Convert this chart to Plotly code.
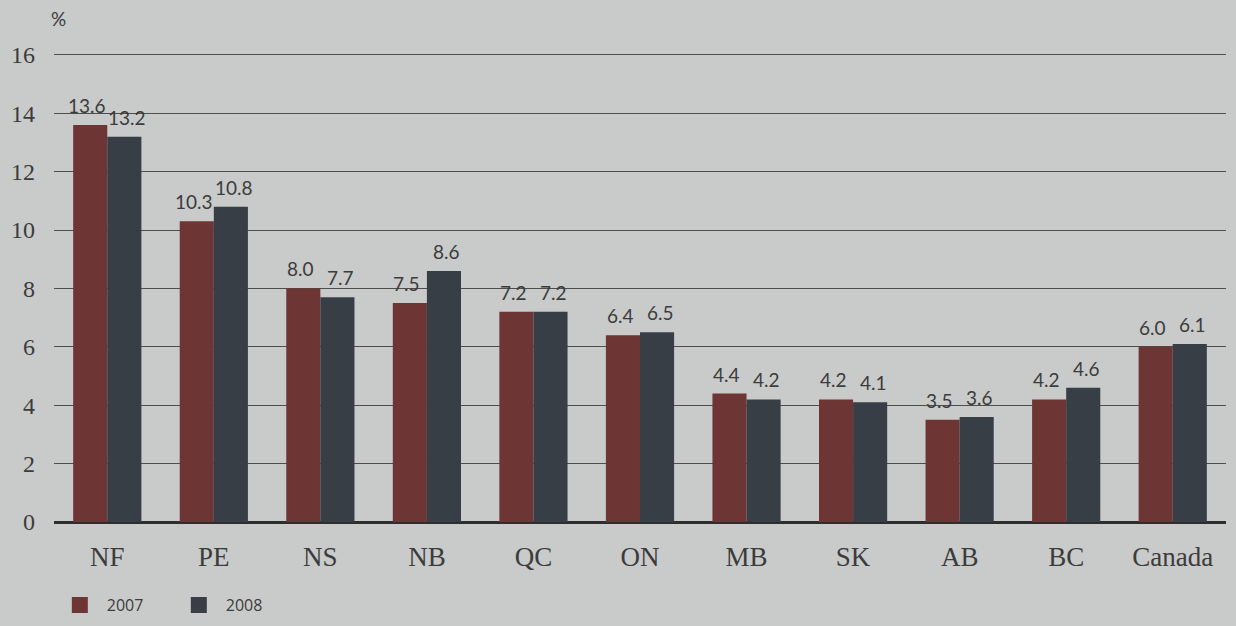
import plotly.graph_objects as go

categories = ["NF", "PE", "NS", "NB", "QC", "ON", "MB", "SK", "AB", "BC", "Canada"]
values_2007 = [13.6, 10.3, 8.0, 7.5, 7.2, 6.4, 4.4, 4.2, 3.5, 4.2, 6.0]
values_2008 = [13.2, 10.8, 7.7, 8.6, 7.2, 6.5, 4.2, 4.1, 3.6, 4.6, 6.1]
labels_2007 = ["13.6", "10.3", "8.0", "7.5", "7.2", "6.4", "4.4", "4.2", "3.5", "4.2", "6.0"]
labels_2008 = ["13.2", "10.8", "7.7", "8.6", "7.2", "6.5", "4.2", "4.1", "3.6", "4.6", "6.1"]
y_ticks = [0, 2, 4, 6, 8, 10, 12, 14, 16]

bg = "#c9caca"
red = "#6d3533"
dark = "#373e46"
txt = "#3c3c3c"
label_font = dict(family="Lato", size=19, color=txt)

fig = go.Figure()
fig.add_trace(go.Bar(name="2007", x=categories, y=values_2007, marker_color=red,
                     marker_line_width=0, showlegend=False))
fig.add_trace(go.Bar(name="2008", x=categories, y=values_2008, marker_color=dark,
                     marker_line_width=0, showlegend=False))
# legend entries
fig.add_trace(go.Scatter(name="2007", x=[None], y=[None], mode="markers",
                         marker=dict(symbol="square", size=18, color=red)))
fig.add_trace(go.Scatter(name="2008", x=[None], y=[None], mode="markers",
                         marker=dict(symbol="square", size=18, color=dark)))

annotations = []
for cat, v, lab in zip(categories, values_2007, labels_2007):
    annotations.append(dict(x=cat, y=v, text=lab, xref="x", yref="y", showarrow=False,
                            xshift=-20, yshift=6, yanchor="bottom", font=label_font))
for cat, v, lab in zip(categories, values_2008, labels_2008):
    annotations.append(dict(x=cat, y=v, text=lab, xref="x", yref="y", showarrow=False,
                            xshift=20, yshift=6, yanchor="bottom", font=label_font))
annotations.append(dict(text="%", x=59, y=18, xref="paper", yref="paper",
                        showarrow=False, xanchor="center", yanchor="middle",
                        font=dict(family="Lato", size=19, color=txt)))
annotations[-1].update(x=0.004, y=1.072)

fig.update_layout(
    width=1236, height=626,
    paper_bgcolor=bg, plot_bgcolor=bg,
    margin=dict(l=54, r=10, t=52, b=104),
    barmode="group", bargap=0.36, bargroupgap=0,
    showlegend=True,
    legend=dict(orientation="h", x=-0.001, y=1 - 605 / 626, yref="container",
                xanchor="left", yanchor="middle",
                font=dict(family="Open Sans", size=16, color=txt),
                bgcolor="rgba(0,0,0,0)", entrywidth=60, entrywidthmode="pixels",
                itemwidth=44, traceorder="normal"),
    xaxis=dict(showgrid=False, showline=False, ticks="",
               tickfont=dict(family="Liberation Serif", size=27, color=txt),
               ticklabelstandoff=16),
    yaxis=dict(range=[0, 16.1], tickvals=y_ticks, showgrid=True, gridcolor="#4e4e4e",
               gridwidth=1.3, zeroline=True, zerolinecolor="#2e2e2e", zerolinewidth=2.5,
               tickfont=dict(family="Liberation Serif", size=24, color=txt),
               ticks="", ticklabelstandoff=18),
    annotations=annotations,
)

fig.write_html("out.html", post_script="document.body.style.margin='0';",
               config={"displayModeBar": False})
